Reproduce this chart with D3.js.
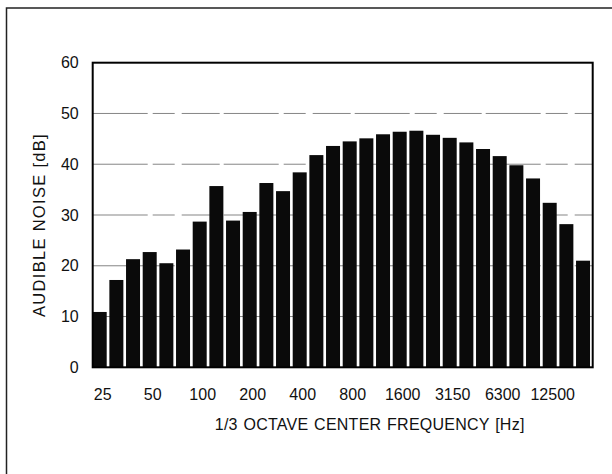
<!DOCTYPE html>
<html>
<head>
<meta charset="utf-8">
<script src="https://cdn.jsdelivr.net/npm/d3@7"></script>
<style>
  body { margin: 0; background: #fff; }
  text { font-family: "Liberation Sans", Arial, sans-serif; fill: #111; }
</style>
</head>
<body>
<div id="chart"></div>
<script>
// 1/3 octave band centres and measured levels
var freqs = ["25", "31.5", "40", "50", "63", "80", "100", "125", "160", "200",
  "250", "315", "400", "500", "630", "800", "1000", "1250", "1600", "2000",
  "2500", "3150", "4000", "5000", "6300", "8000", "10000", "12500", "16000", "20000"];
var noise = [10.9, 17.2, 21.3, 22.7, 20.5, 23.2, 28.7, 35.7, 28.9, 30.6,
  36.3, 34.7, 38.4, 41.8, 43.6, 44.5, 45.1, 45.9, 46.4, 46.6,
  45.8, 45.2, 44.3, 43.0, 41.6, 39.8, 37.2, 32.4, 28.2, 21.0];
var xTickLabels = ["25", "50", "100", "200", "400", "800", "1600", "3150", "6300", "12500"];
var yTicks = [0, 10, 20, 30, 40, 50, 60];

var svgWidth = 612;
var svgHeight = 474;

var margin = { top: 62.7, right: 19.3, bottom: 106.7, left: 92.7 };
var width = svgWidth - margin.left - margin.right;
var height = svgHeight - margin.top - margin.bottom;

var svg = d3.select("#chart")
  .append("svg")
  .attr("width", svgWidth)
  .attr("height", svgHeight);

// outer page border (only left and top visible)
svg.append("path")
  .attr("d", "M6.5,474 L6.5,8 L612,8")
  .attr("fill", "none")
  .attr("stroke", "#222")
  .attr("stroke-width", 1.5);

var chartGroup = svg.append("g")
  .attr("transform", `translate(${margin.left}, ${margin.top})`);

var xScale = d3.scaleBand()
  .domain(freqs)
  .range([0, width])
  .paddingInner(0.16)
  .paddingOuter(0.08)
  .align(0);

var yScale = d3.scaleLinear()
  .domain([0, 60])
  .range([height, 0]);

// grid lines
chartGroup.selectAll(".grid")
  .data(yTicks.slice(1, -1))
  .enter()
  .append("line")
  .attr("class", "grid")
  .attr("x1", 0)
  .attr("x2", width)
  .attr("y1", d => yScale(d))
  .attr("y2", d => yScale(d))
  .attr("stroke", "#858585")
  .attr("stroke-width", 1)
  .attr("stroke-dasharray", "55,5,22,7,38,4");

// bars
chartGroup.selectAll(".bar")
  .data(noise)
  .enter()
  .append("rect")
  .attr("class", "bar")
  .attr("x", (d, i) => xScale(freqs[i]))
  .attr("y", d => yScale(d))
  .attr("width", xScale.bandwidth())
  .attr("height", d => height - yScale(d))
  .attr("fill", "#0a0a0a");

// frame
chartGroup.append("rect")
  .attr("width", width)
  .attr("height", height)
  .attr("fill", "none")
  .attr("stroke", "#000")
  .attr("stroke-width", 2);

// y axis
var leftAxis = d3.axisLeft(yScale).tickValues(yTicks).tickSize(0).tickPadding(14);
var yAxis = chartGroup.append("g").call(leftAxis);
yAxis.select(".domain").remove();
yAxis.selectAll("text")
  .style("font-size", "16px")
  .attr("fill", "#111");

// x axis, labels every third band
var bottomAxis = d3.axisBottom(xScale).tickValues(xTickLabels).tickSize(0).tickPadding(21.5);
var xAxis = chartGroup.append("g")
  .attr("transform", `translate(0, ${height})`)
  .call(bottomAxis);
xAxis.select(".domain").remove();
xAxis.selectAll("text")
  .style("font-size", "16px")
  .attr("dx", "3")
  .attr("fill", "#111");

// axis titles
chartGroup.append("text")
  .attr("x", width / 2 + 27)
  .attr("y", height + 63)
  .attr("text-anchor", "middle")
  .style("font-size", "16px")
  .style("letter-spacing", "0.25px")
  .style("word-spacing", "1px")
  .text("1/3 OCTAVE CENTER FREQUENCY [Hz]");

svg.append("text")
  .attr("transform", "translate(45, 225) rotate(-90)")
  .attr("text-anchor", "middle")
  .style("font-size", "16.5px")
  .style("letter-spacing", "1.3px")
  .text("AUDIBLE NOISE [dB]");
</script>
</body>
</html>
